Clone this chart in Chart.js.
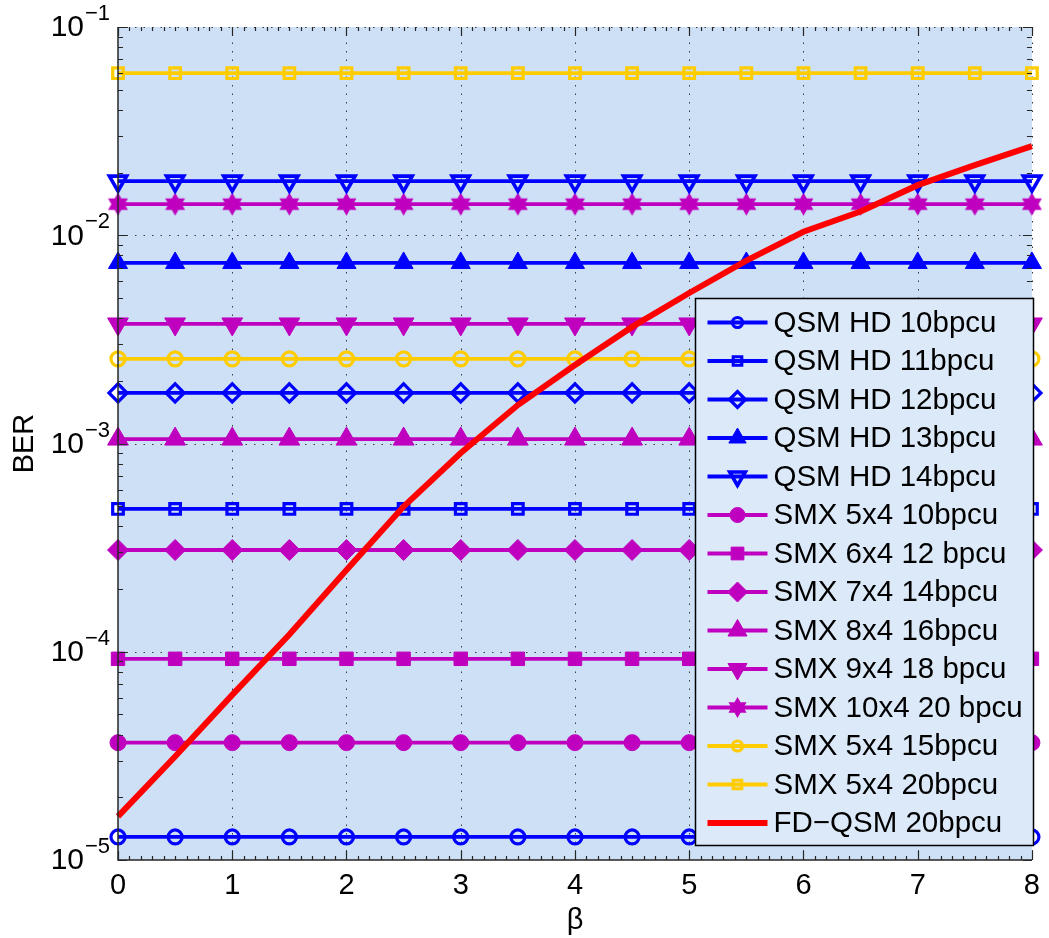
<!DOCTYPE html>
<html><head><meta charset="utf-8">
<script src="https://cdn.jsdelivr.net/npm/chart.js@4.4.1/dist/chart.umd.min.js"></script>
<style>html,body{margin:0;padding:0;background:#fff;overflow:hidden}#wrap{width:1049px;height:938px;position:relative}</style>
</head><body>
<div id="wrap"><canvas id="c" width="1049" height="938"></canvas></div>
<script>
// ---- data ----
const betaValues = [0, 0.5, 1, 1.5, 2, 2.5, 3, 3.5, 4, 4.5, 5, 5.5, 6, 6.5, 7, 7.5, 8];
const xTickValues = [0, 1, 2, 3, 4, 5, 6, 7, 8];
const yTickExponents = [-5, -4, -3, -2, -1];

const qsmHD10 = [1.29e-5, 1.29e-5, 1.29e-5, 1.29e-5, 1.29e-5, 1.29e-5, 1.29e-5, 1.29e-5, 1.29e-5, 1.29e-5, 1.29e-5, 1.29e-5, 1.29e-5, 1.29e-5, 1.29e-5, 1.29e-5, 1.29e-5];
const qsmHD11 = [4.85e-4, 4.85e-4, 4.85e-4, 4.85e-4, 4.85e-4, 4.85e-4, 4.85e-4, 4.85e-4, 4.85e-4, 4.85e-4, 4.85e-4, 4.85e-4, 4.85e-4, 4.85e-4, 4.85e-4, 4.85e-4, 4.85e-4];
const qsmHD12 = [1.75e-3, 1.75e-3, 1.75e-3, 1.75e-3, 1.75e-3, 1.75e-3, 1.75e-3, 1.75e-3, 1.75e-3, 1.75e-3, 1.75e-3, 1.75e-3, 1.75e-3, 1.75e-3, 1.75e-3, 1.75e-3, 1.75e-3];
const qsmHD13 = [7.36e-3, 7.36e-3, 7.36e-3, 7.36e-3, 7.36e-3, 7.36e-3, 7.36e-3, 7.36e-3, 7.36e-3, 7.36e-3, 7.36e-3, 7.36e-3, 7.36e-3, 7.36e-3, 7.36e-3, 7.36e-3, 7.36e-3];
const qsmHD14 = [1.82e-2, 1.82e-2, 1.82e-2, 1.82e-2, 1.82e-2, 1.82e-2, 1.82e-2, 1.82e-2, 1.82e-2, 1.82e-2, 1.82e-2, 1.82e-2, 1.82e-2, 1.82e-2, 1.82e-2, 1.82e-2, 1.82e-2];
const smx5x4b10 = [3.66e-5, 3.66e-5, 3.66e-5, 3.66e-5, 3.66e-5, 3.66e-5, 3.66e-5, 3.66e-5, 3.66e-5, 3.66e-5, 3.66e-5, 3.66e-5, 3.66e-5, 3.66e-5, 3.66e-5, 3.66e-5, 3.66e-5];
const smx6x4b12 = [9.25e-5, 9.25e-5, 9.25e-5, 9.25e-5, 9.25e-5, 9.25e-5, 9.25e-5, 9.25e-5, 9.25e-5, 9.25e-5, 9.25e-5, 9.25e-5, 9.25e-5, 9.25e-5, 9.25e-5, 9.25e-5, 9.25e-5];
const smx7x4b14 = [3.08e-4, 3.08e-4, 3.08e-4, 3.08e-4, 3.08e-4, 3.08e-4, 3.08e-4, 3.08e-4, 3.08e-4, 3.08e-4, 3.08e-4, 3.08e-4, 3.08e-4, 3.08e-4, 3.08e-4, 3.08e-4, 3.08e-4];
const smx8x4b16 = [1.05e-3, 1.05e-3, 1.05e-3, 1.05e-3, 1.05e-3, 1.05e-3, 1.05e-3, 1.05e-3, 1.05e-3, 1.05e-3, 1.05e-3, 1.05e-3, 1.05e-3, 1.05e-3, 1.05e-3, 1.05e-3, 1.05e-3];
const smx9x4b18 = [3.75e-3, 3.75e-3, 3.75e-3, 3.75e-3, 3.75e-3, 3.75e-3, 3.75e-3, 3.75e-3, 3.75e-3, 3.75e-3, 3.75e-3, 3.75e-3, 3.75e-3, 3.75e-3, 3.75e-3, 3.75e-3, 3.75e-3];
const smx10x4b20 = [1.41e-2, 1.41e-2, 1.41e-2, 1.41e-2, 1.41e-2, 1.41e-2, 1.41e-2, 1.41e-2, 1.41e-2, 1.41e-2, 1.41e-2, 1.41e-2, 1.41e-2, 1.41e-2, 1.41e-2, 1.41e-2, 1.41e-2];
const smx5x4b15 = [2.55e-3, 2.55e-3, 2.55e-3, 2.55e-3, 2.55e-3, 2.55e-3, 2.55e-3, 2.55e-3, 2.55e-3, 2.55e-3, 2.55e-3, 2.55e-3, 2.55e-3, 2.55e-3, 2.55e-3, 2.55e-3, 2.55e-3];
const smx5x4b20 = [6.0e-2, 6.0e-2, 6.0e-2, 6.0e-2, 6.0e-2, 6.0e-2, 6.0e-2, 6.0e-2, 6.0e-2, 6.0e-2, 6.0e-2, 6.0e-2, 6.0e-2, 6.0e-2, 6.0e-2, 6.0e-2, 6.0e-2];
const fdQsm20 = [1.62e-5, 3.14e-5, 6.21e-5, 1.21e-4, 2.47e-4, 4.98e-4, 9.0e-4, 1.53e-3, 2.38e-3, 3.63e-3, 5.28e-3, 7.55e-3, 1.04e-2, 1.30e-2, 1.74e-2, 2.17e-2, 2.68e-2];

// ---- styles ----
const FONT = '"Liberation Sans", Arial, Helvetica, sans-serif';
const BLUE = '#0000FF', MAG = '#BF00BF', YEL = '#FFCC00', RED = '#FF0000';
const CLEAR = 'rgba(0,0,0,0)';

function makeHexagram(r, color) {
  const c = document.createElement('canvas');
  const s = Math.ceil(2 * r + 4);
  c.width = s; c.height = s;
  const g = c.getContext('2d');
  g.fillStyle = color;
  g.beginPath();
  for (let i = 0; i < 12; i++) {
    const a = -Math.PI / 2 + i * Math.PI / 6;
    const rr = (i % 2) ? r / Math.sqrt(3) : r;
    g.lineTo(s / 2 + rr * Math.cos(a), s / 2 + rr * Math.sin(a));
  }
  g.closePath(); g.fill();
  return c;
}
const hexPlot = makeHexagram(11.5, MAG);
const hexLegend = makeHexagram(10.5, MAG);

function pts(arr) { return betaValues.map((b, i) => ({ x: b, y: arr[i] })); }

function series(label, arr, color, style, opts) {
  const o = Object.assign({ open: false, radius: 7, rotation: 0, lr: null, bw: null }, opts || {});
  const bw = o.bw || (o.open ? 3.2 : 1);
  return {
    label, data: pts(arr), borderColor: color, borderWidth: 3.8,
    pointStyle: style, pointRadius: o.radius, pointRotation: o.rotation,
    pointBorderColor: color, pointBackgroundColor: o.open ? CLEAR : color,
    pointBorderWidth: bw, pointHoverRadius: o.radius,
    tension: 0, clip: 14, order: 1,
    _open: o.open, _legendRadius: o.lr || o.radius, _legendStyle: o.legendStyle || style
  };
}

const datasets = [
  series('QSM HD 10bpcu', qsmHD10, BLUE, 'circle', { open: true, radius: 7, lr: 5 }),
  series('QSM HD 11bpcu', qsmHD11, BLUE, 'rect', { open: true, radius: 7.5, lr: 6 }),
  series('QSM HD 12bpcu', qsmHD12, BLUE, 'rectRot', { open: true, radius: 9, lr: 8 }),
  series('QSM HD 13bpcu', qsmHD13, BLUE, 'triangle', { radius: 11, lr: 10 }),
  series('QSM HD 14bpcu', qsmHD14, BLUE, 'triangle', { open: true, radius: 10, rotation: 180, lr: 9, bw: 3.6 }),
  series('SMX 5x4 10bpcu', smx5x4b10, MAG, 'circle', { radius: 8, lr: 7.5 }),
  series('SMX 6x4 12 bpcu', smx6x4b12, MAG, 'rect', { radius: 9.5, lr: 9 }),
  series('SMX 7x4 14bpcu', smx7x4b14, MAG, 'rectRot', { radius: 10.5, lr: 10 }),
  series('SMX 8x4 16bpcu', smx8x4b16, MAG, 'triangle', { radius: 12, lr: 11 }),
  series('SMX 9x4 18 bpcu', smx9x4b18, MAG, 'triangle', { radius: 12, rotation: 180, lr: 11 }),
  series('SMX 10x4 20 bpcu', smx10x4b20, MAG, hexPlot, { radius: 11.5, legendStyle: hexLegend }),
  series('SMX 5x4 15bpcu', smx5x4b15, YEL, 'circle', { open: true, radius: 7, lr: 5 }),
  series('SMX 5x4 20bpcu', smx5x4b20, YEL, 'rect', { open: true, radius: 7.5, lr: 6 }),
  {
    label: 'FD\u2212QSM 20bpcu', data: pts(fdQsm20), borderColor: RED, borderWidth: 6,
    pointRadius: 0, pointHoverRadius: 0, tension: 0, order: 0, clip: 4, _line: true
  }
];

// ---- plugins ----
const plotBg = {
  id: 'plotBg',
  beforeDraw(chart) {
    const { ctx, chartArea: a } = chart;
    ctx.save();
    ctx.fillStyle = '#fff';
    ctx.fillRect(0, 0, chart.width, chart.height);
    ctx.fillStyle = '#CDE0F6';
    ctx.fillRect(a.left, a.top, a.right - a.left, a.bottom - a.top);
    ctx.restore();
  }
};

const gridDots = {
  id: 'gridDots',
  beforeDatasetsDraw(chart) {
    const { ctx, chartArea: a, scales: { x, y } } = chart;
    ctx.save();
    ctx.strokeStyle = '#3a3a3a';
    ctx.lineWidth = 1;
    ctx.setLineDash([1.5, 7]);
    xTickValues.forEach(v => {
      if (v === xTickValues[0]) return;
      const px = Math.round(x.getPixelForValue(v)) + 0.5;
      ctx.beginPath(); ctx.moveTo(px, a.bottom); ctx.lineTo(px, a.top); ctx.stroke();
    });
    yTickExponents.forEach(e => {
      if (e === yTickExponents[0]) return;
      const py = Math.round(y.getPixelForValue(Math.pow(10, e))) + 0.5;
      ctx.beginPath(); ctx.moveTo(a.left, py); ctx.lineTo(a.right, py); ctx.stroke();
    });
    ctx.restore();
  },
  afterDatasetsDraw(chart) {
    const { ctx, chartArea: a, scales: { x, y } } = chart;
    ctx.save();
    ctx.strokeStyle = '#262626';
    ctx.lineWidth = 1.5;
    ctx.beginPath();
    ctx.moveTo(a.left, a.top); ctx.lineTo(a.left, a.bottom); ctx.lineTo(a.right, a.bottom);
    ctx.stroke();
    ctx.lineWidth = 1.2;
    ctx.beginPath();
    for (let i = 0; i <= 80; i++) {
      const v = i / 10;
      const px = Math.round(x.getPixelForValue(v)) + 0.5;
      const len = (i % 10 === 0) ? 9 : 4;
      ctx.moveTo(px, a.bottom); ctx.lineTo(px, a.bottom - len);
      ctx.moveTo(px, a.top); ctx.lineTo(px, a.top + len);
    }
    yTickExponents.forEach((e, idx) => {
      const base = Math.pow(10, e);
      let py = Math.round(y.getPixelForValue(base)) + 0.5;
      ctx.moveTo(a.left, py); ctx.lineTo(a.left + 9, py);
      ctx.moveTo(a.right, py); ctx.lineTo(a.right - 9, py);
      if (idx < yTickExponents.length - 1) {
        for (let k = 2; k <= 9; k++) {
          py = Math.round(y.getPixelForValue(k * base)) + 0.5;
          ctx.moveTo(a.left, py); ctx.lineTo(a.left + 5, py);
          ctx.moveTo(a.right, py); ctx.lineTo(a.right - 5, py);
        }
      }
    });
    ctx.stroke();
    ctx.restore();
  }
};

const yPowLabels = {
  id: 'yPowLabels',
  afterDraw(chart) {
    const { ctx, scales: { y } } = chart;
    ctx.save();
    ctx.fillStyle = '#000';
    yTickExponents.forEach(e => {
      const py = y.getPixelForValue(Math.pow(10, e));
      ctx.font = '30px ' + FONT;
      ctx.textAlign = 'right'; ctx.textBaseline = 'middle';
      ctx.fillText('10', 84, py + 1);
      ctx.font = '22px ' + FONT;
      ctx.textAlign = 'left'; ctx.textBaseline = 'alphabetic';
      ctx.fillText('\u2212' + Math.abs(e), 85, py - 7);
    });
    ctx.restore();
  }
};

const boxLegend = {
  id: 'boxLegend',
  afterDraw(chart) {
    const ctx = chart.ctx;
    const bx = 695.5, by = 298.5, bw = 338, bh = 547;
    const rowTop = by + 24, step = 38.5;
    ctx.save();
    ctx.fillStyle = '#DCE9F8';
    ctx.fillRect(bx, by, bw, bh);
    ctx.strokeStyle = '#000'; ctx.lineWidth = 1.5;
    ctx.strokeRect(bx, by, bw, bh);
    chart.data.datasets.forEach((ds, i) => {
      const cy = rowTop + i * step;
      ctx.strokeStyle = ds.borderColor;
      ctx.lineWidth = ds.borderWidth;
      ctx.setLineDash([]);
      ctx.beginPath(); ctx.moveTo(bx + 12, cy); ctx.lineTo(bx + 72, cy); ctx.stroke();
      if (!ds._line) {
        ctx.fillStyle = ds._open ? CLEAR : ds.borderColor;
        ctx.strokeStyle = ds.borderColor;
        ctx.lineWidth = ds.pointBorderWidth;
        Chart.helpers.drawPoint(ctx, {
          pointStyle: ds._legendStyle, rotation: ds.pointRotation,
          radius: ds._legendRadius, borderWidth: ds.pointBorderWidth
        }, bx + 42, cy);
      }
      ctx.fillStyle = '#000';
      ctx.font = '29.5px ' + FONT;
      ctx.textAlign = 'left'; ctx.textBaseline = 'middle';
      ctx.fillText(ds.label, bx + 78, cy + 1);
    });
    ctx.restore();
  }
};

Chart.defaults.font.family = FONT;
new Chart(document.getElementById('c'), {
  type: 'line',
  data: { datasets },
  options: {
    responsive: false, animation: false, devicePixelRatio: 1,
    layout: { padding: { top: 27, right: 12, left: 0, bottom: 0 } },
    plugins: { legend: { display: false }, tooltip: { enabled: false } },
    events: [],
    scales: {
      x: {
        type: 'linear', min: 0, max: 8,
        afterBuildTicks: s => { s.ticks = xTickValues.map(v => ({ value: v })); },
        afterFit: s => { s.height = 78; },
        ticks: { color: '#000', font: { size: 29 }, padding: 9, maxRotation: 0, autoSkip: false },
        grid: { display: false, drawTicks: false },
        border: { display: false },
        title: { display: true, text: '\u03b2', color: '#000', font: { size: 29 }, padding: { top: 0, bottom: 0 } }
      },
      y: {
        type: 'logarithmic', min: 1e-5, max: 1e-1,
        afterFit: s => { s.width = 118; },
        ticks: { display: false },
        grid: { display: false, drawTicks: false },
        border: { display: false },
        title: { display: true, text: 'BER', color: '#000', font: { size: 29 }, padding: { top: 8, bottom: 0 } }
      }
    }
  },
  plugins: [plotBg, gridDots, yPowLabels, boxLegend]
});
</script>
</body></html>
